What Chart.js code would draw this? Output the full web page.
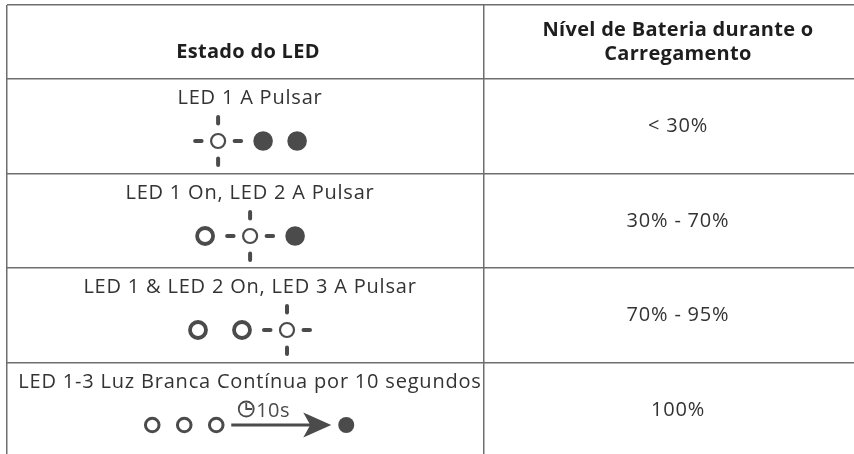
<!DOCTYPE html>
<html>
<head>
<meta charset="utf-8">
<script src="https://cdn.jsdelivr.net/npm/chart.js@4.4.0/dist/chart.umd.min.js"></script>
<style>
  html, body { margin: 0; padding: 0; background: #fff; }
  canvas { display: block; }
</style>
</head>
<body>
<canvas id="tabela" width="854" height="454"></canvas>
<script>

// dados da tabela

const headers = [['Estado do LED'], ['Nível de Bateria durante o', 'Carregamento']];

const ledStates = [
    'LED 1 A Pulsar',
    'LED 1 On, LED 2 A Pulsar',
    'LED 1 & LED 2 On, LED 3 A Pulsar',
    'LED 1-3 Luz Branca Contínua por 10 segundos'
];

const batteryLevels = ['< 30%', '30% - 70%', '70% - 95%', '100%'];

// off = apagado, on = aceso, pulse = a pulsar, white = luz branca, timer = seta de 10s
const ledPatterns = [
    ['pulse', 'off', 'off'],
    ['on', 'pulse', 'off'],
    ['on', 'on', 'pulse'],
    ['white', 'white', 'white', 'timer', 'off']
];

const timerLabel = '10s';

// layout (pixels)

const colBounds = [7, 484, 872];
const rowBounds = [5, 79, 174, 268, 363, 458];
const leftTextX = 250;
const iconGroupX = 250;
const gray = '#4b4b4b';
const lineGray = '#6e6e6e';
const bodyFont = '20px "Open Sans"';
const headFont = 'bold 20px "Open Sans"';

function gap(a, b){
    if (a == 'timer' || b == 'timer') return 65;
    if (a == 'pulse' || b == 'pulse') return 45;
    if (a == 'on' && b == 'on') return 44;
    if (a == 'white') return 32;
    return 34;
}

function halfSize(t){
    return { pulse: 25, off: 9.8, on: 10, white: 8.3, timer: 50 }[t];
}

// posicoes dos icones de cada linha
let icons = [];
ledPatterns.forEach(function(pattern, row){
    let xs = [0];
    for (let i = 1; i < pattern.length; i++){
        xs.push(xs[i - 1] + gap(pattern[i - 1], pattern[i]));
    }
    let left = xs[0] - halfSize(pattern[0]);
    let right = xs[xs.length - 1] + halfSize(pattern[pattern.length - 1]);
    let shift = iconGroupX - (left + right) / 2;
    pattern.forEach(function(t, i){
        icons.push({ type: t, row: row, x: xs[i] + shift, y: rowBounds[row + 1] + 62, small: row == 3 });
    });
});

function pick(type){
    return icons.filter(function(p){ return p.type == type; });
}

const tablePlugin = {
    id: 'tablePlugin',
    afterDatasetsDraw: function(chart){
        let ctx = chart.ctx;
        let xs = chart.scales.x;
        let ys = chart.scales.y;

        ctx.save();
        ctx.strokeStyle = gray;
        ctx.fillStyle = gray;
        ctx.lineCap = 'round';

        // raios dos leds a pulsar
        pick('pulse').forEach(function(p){
            let cx = xs.getPixelForValue(p.x);
            let cy = ys.getPixelForValue(p.y);
            ctx.lineWidth = 4;
            [[1, 0], [-1, 0], [0, 1], [0, -1]].forEach(function(d){
                ctx.beginPath();
                ctx.moveTo(cx + d[0] * 16.5, cy + d[1] * 17.5);
                ctx.lineTo(cx + d[0] * 23, cy + d[1] * 24);
                ctx.stroke();
            });
        });

        // seta com relogio
        pick('timer').forEach(function(p){
            let cx = xs.getPixelForValue(p.x);
            let cy = ys.getPixelForValue(p.y);
            ctx.lineCap = 'butt';
            ctx.lineWidth = 3;
            ctx.beginPath();
            ctx.moveTo(cx - 50, cy);
            ctx.lineTo(cx + 30, cy);
            ctx.stroke();
            ctx.beginPath();
            ctx.moveTo(cx + 50, cy);
            ctx.lineTo(cx + 22, cy - 12.5);
            ctx.lineTo(cx + 29, cy);
            ctx.lineTo(cx + 22, cy + 12.5);
            ctx.closePath();
            ctx.fill();

            // relogio
            let kx = cx - 35, ky = cy - 16;
            ctx.lineWidth = 1.8;
            ctx.beginPath();
            ctx.arc(kx, ky, 7.5, 0, Math.PI * 2);
            ctx.stroke();
            ctx.beginPath();
            ctx.moveTo(kx, ky - 6);
            ctx.lineTo(kx, ky);
            ctx.lineTo(kx + 6, ky);
            ctx.stroke();

            ctx.font = bodyFont;
            ctx.letterSpacing = '0.4px';
            ctx.textAlign = 'left';
            ctx.textBaseline = 'alphabetic';
            ctx.fillText(timerLabel, kx + 10, cy - 8);
        });
        ctx.restore();
    },
    afterDraw: function(chart){
        let ctx = chart.ctx;
        let ys = chart.scales.y;
        ctx.save();
        ctx.textAlign = 'center';
        ctx.textBaseline = 'middle';

        // cabecalho
        ctx.fillStyle = '#1e1e1e';
        ctx.font = headFont;
        ctx.letterSpacing = '0.3px';
        ctx.fillText(headers[0][0], 248, 52);
        let c2 = (colBounds[1] + colBounds[2]) / 2;
        ctx.fillText(headers[1][0], c2, 30);
        ctx.fillText(headers[1][1], c2, 54);

        // linhas
        ctx.fillStyle = '#333';
        ctx.font = bodyFont;
        ctx.letterSpacing = '0.8px';
        ledStates.forEach(function(label, i){
            let top = ys.getPixelForValue(rowBounds[i + 1]);
            let bottom = ys.getPixelForValue(rowBounds[i + 2]);
            let w = ctx.measureText(label).width;
            let cx = leftTextX;
            if (cx + w / 2 > colBounds[1] - 2) cx = colBounds[1] - 2 - w / 2;
            ctx.fillText(label, cx, top + 19);
            ctx.fillText(batteryLevels[i], c2, (top + bottom) / 2);
        });
        ctx.restore();
    }
};

var ctx = document.getElementById('tabela');

var tabela = new Chart(ctx, {
    type: 'scatter',
    data: {
        datasets: [
            {
                label: 'Apagado',
                data: pick('off'),
                pointRadius: function(c){ return c.raw.small ? 8 : 9.8; },
                backgroundColor: gray,
                borderWidth: 0
            },
            {
                label: 'Aceso',
                data: pick('on'),
                pointRadius: 8,
                backgroundColor: '#fff',
                borderColor: gray,
                borderWidth: 3.8
            },
            {
                label: 'A pulsar',
                data: pick('pulse'),
                pointRadius: 7,
                backgroundColor: '#fff',
                borderColor: gray,
                borderWidth: 2.2
            },
            {
                label: 'Luz branca',
                data: pick('white'),
                pointRadius: 6.8,
                backgroundColor: '#fff',
                borderColor: gray,
                borderWidth: 3
            }
        ]
    },
    options: {
        responsive: false,
        animation: false,
        events: [],
        layout: { autoPadding: false, padding: { left: 7, top: 5, right: 0, bottom: 0 } },
        plugins: {
            legend: { display: false },
            tooltip: { enabled: false }
        },
        scales: {
            x: {
                type: 'linear',
                min: 7,
                max: 854,
                afterBuildTicks: function(scale){
                    scale.ticks = colBounds.slice(0, 2).map(function(v){ return { value: v }; });
                },
                ticks: { display: false },
                grid: { drawTicks: false, color: lineGray, lineWidth: 1.5 },
                border: { display: false }
            },
            y: {
                type: 'linear',
                reverse: true,
                min: 5,
                max: 454,
                afterBuildTicks: function(scale){
                    scale.ticks = rowBounds.slice(0, 5).map(function(v){ return { value: v }; });
                },
                ticks: { display: false },
                grid: { drawTicks: false, color: lineGray, lineWidth: 1.5 },
                border: { display: false }
            }
        }
    },
    plugins: [tablePlugin]
});

</script>
</body>
</html>
